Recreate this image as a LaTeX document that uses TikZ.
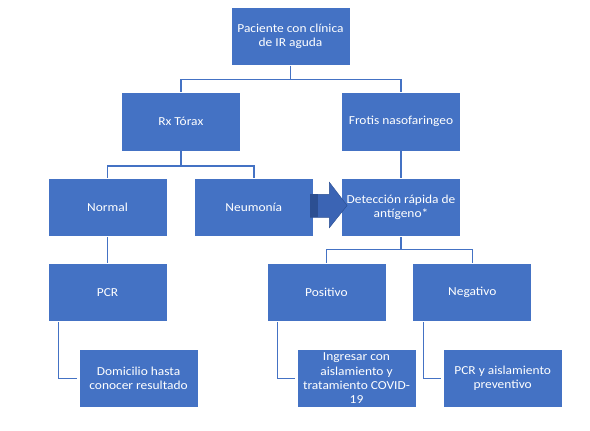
\documentclass[tikz,border=0pt]{standalone}
\usepackage{fontspec}
\setmainfont{Carlito}[FakeStretch=1.1]
\definecolor{boxblue}{HTML}{4472C4}
\definecolor{arrowblue}{HTML}{3B64B4}
\definecolor{arrowdark}{HTML}{2C4F92}
\tikzset{
  stepbox/.style={rectangle, draw=white, line width=0.8pt, fill=boxblue, text=white, minimum width=119pt, minimum height=58.4pt, inner sep=2pt, align=center, font=\fontsize{12.2}{14.3}\selectfont},
  link/.style={draw=boxblue, line width=1.4pt}
}
\begin{document}
\begin{tikzpicture}[x=1pt, y=-1pt]
\useasboundingbox (0,0) rectangle (590,431);

\node[stepbox] (paciente) at (290.5,36.2) {Paciente con clínica\\de IR aguda};
\node[stepbox] (rx) at (180.8,121.8) {Rx Tórax};
\node[stepbox] (frotis) at (401,121.8) {Frotis nasofaringeo};
\node[stepbox] (normal) at (107.5,207.6) {Normal};
\node[stepbox] (neumonia) at (253.8,207.6) {Neumonía};
\node[stepbox] (deteccion) at (401,207.6) {Detección rápida de\\antígeno*};
\node[stepbox] (pcr) at (107.5,292.5) {PCR};
\node[stepbox] (positivo) at (326.4,292.5) {Positivo};
\node[stepbox] (negativo) at (472.3,292.5) {Negativo};
\node[stepbox] (domicilio) at (138.5,378.5) {Domicilio hasta\\conocer resultado};
\node[stepbox] (ingresar) at (356.5,378.5) {Ingresar con\\aislamiento y\\tratamiento COVID-\\19};
\node[stepbox] (pcrais) at (502.7,378.5) {PCR y aislamiento\\preventivo};

\draw[link] (paciente.south) -- ++(0,13.8) -| (rx.north);
\draw[link] (paciente.south) -- ++(0,13.8) -| (frotis.north);
\draw[link] (rx.south) -- ++(0,14.5) -| (normal.north);
\draw[link] (rx.south) -- ++(0,14.5) -| (neumonia.north);
\draw[link] (frotis.south) -- (deteccion.north);
\draw[link] (normal.south) -- (pcr.north);
\draw[link] (deteccion.south) -- ++(0,12.3) -| (positivo.north);
\draw[link] (deteccion.south) -- ++(0,12.3) -| (negativo.north);
\draw[link] ([xshift=11pt]pcr.south west) |- ([xshift=-2pt]domicilio.west);
\draw[link] ([xshift=11pt]positivo.south west) |- ([xshift=-2pt]ingresar.west);
\draw[link] ([xshift=11pt]negativo.south west) |- ([xshift=-2pt]pcrais.west);

\begin{scope}[shift={(neumonia.east)}]
\filldraw[fill=arrowblue, draw=arrowdark, line width=0.4pt] (-3.3,-13.3) -- (15.7,-13.3) -- (15.7,-25.3) -- (33.4,-2.1) -- (15.7,20.1) -- (15.7,9.7) -- (-3.3,9.7) -- cycle;
\fill[arrowdark] (-3.3,-13.3) rectangle (4.7,9.7);
\end{scope}

\end{tikzpicture}
\end{document}
